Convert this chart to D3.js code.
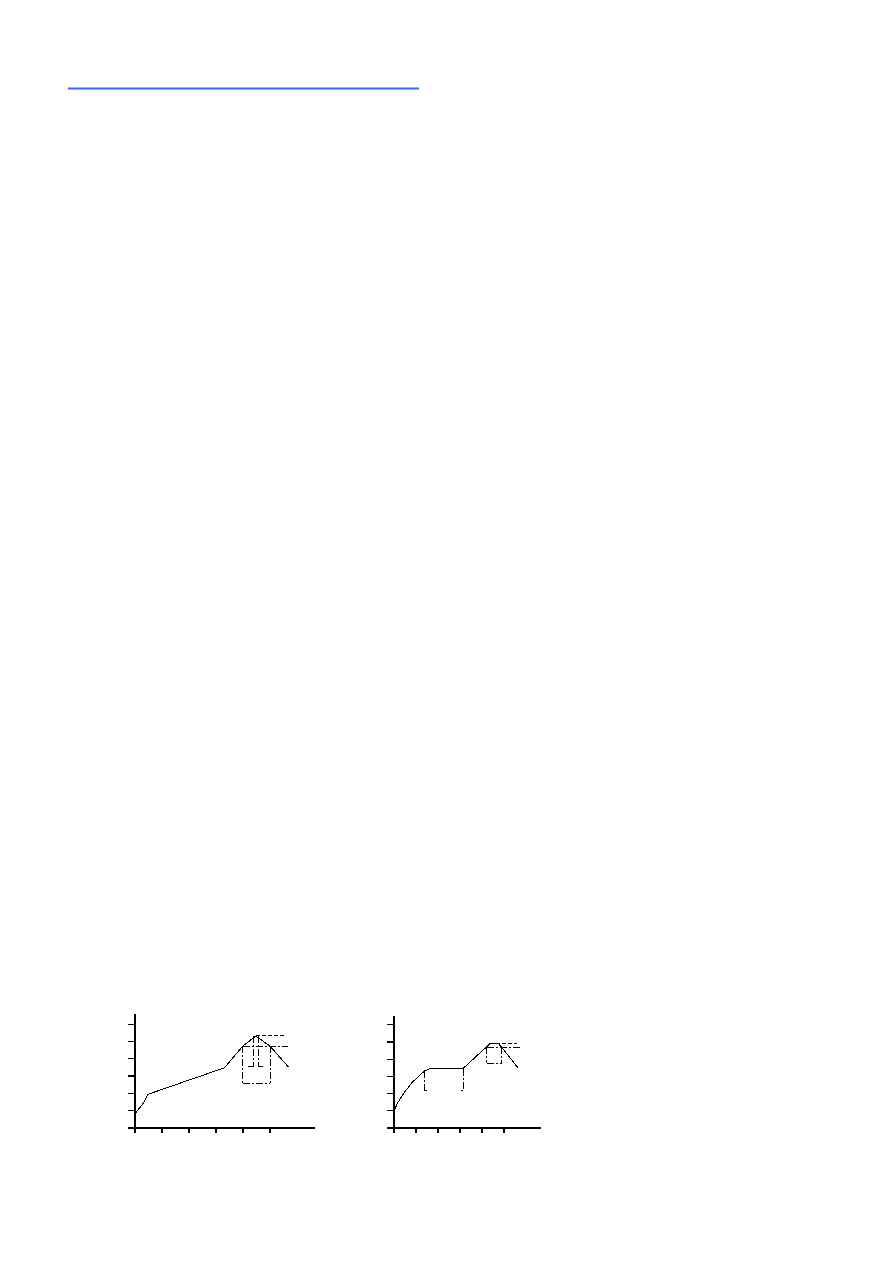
<!DOCTYPE html>
<html><head><meta charset="utf-8">
<script src="https://cdn.jsdelivr.net/npm/d3@7"></script>
<style>html,body{margin:0;padding:0;background:#fff;}svg{display:block;}</style>
</head><body>
<svg id="c" width="892" height="1261"></svg>
<script>
// ---- data ----
const yTicks = [0, 1, 2, 3, 4, 5, 6];
const xTicks = [0, 1, 2, 3, 4, 5];

// chart 1 curve [x, y]
const curve1 = [[0, 0.75], [0.33, 1.42], [0.50, 1.92], [3.33, 3.45], [4.01, 4.70], [4.49, 5.29], [5.02, 4.70], [5.70, 3.50]];
// chart 1 guide segments [x1, y1, x2, y2]
const dashed1 = [[4.49, 5.29, 5.57, 5.29]];
const dashDot1 = [
  [4.01, 4.70, 5.70, 4.70],
  [4.01, 4.70, 4.01, 2.55], [5.02, 4.70, 5.02, 2.55], [4.01, 2.55, 5.02, 2.55],
  [4.39, 5.29, 4.39, 3.51], [4.39, 3.51, 4.22, 3.51],
  [4.59, 5.29, 4.59, 3.51], [4.59, 3.51, 4.77, 3.51]
];

// chart 2 curve
const curve2 = [[0, 0.93], [0.22, 1.50], [0.52, 2.08], [0.83, 2.60], [1.13, 2.95], [1.40, 3.28], [1.66, 3.43], [3.16, 3.43], [4.24, 4.70], [4.39, 4.90], [4.76, 4.90], [4.92, 4.66], [5.65, 3.48]];
const dashed2 = [[4.39, 4.90, 5.61, 4.90]];
const dashDot2 = [
  [4.24, 4.66, 5.84, 4.66],
  [4.24, 4.66, 4.24, 3.73], [4.92, 4.66, 4.92, 3.73], [4.24, 3.73, 4.92, 3.73],
  [1.40, 3.28, 1.40, 2.18], [1.40, 2.18, 1.51, 2.18],
  [3.16, 3.43, 3.16, 2.18], [3.16, 2.18, 3.07, 2.18]
];

// ---- drawing ----
const svg = d3.select("#c");

// blue rule at top
svg.append("line").attr("x1", 68).attr("x2", 419).attr("y1", 88.5).attr("y2", 88.5)
  .attr("stroke", "#3366ff").attr("stroke-width", 2);

function chart(o) {
  const x = d3.scaleLinear().domain([0, o.xMax]).range([o.left, o.right]);
  const y = d3.scaleLinear().domain([0, o.yMax]).range([o.bottom, o.top]);
  const g = svg.append("g").attr("shape-rendering", "crispEdges");
  const ya = g.append("g").attr("transform", `translate(${o.left},0)`)
    .call(d3.axisLeft(y).tickValues(yTicks).tickSize(7).tickSizeOuter(0).tickFormat(""));
  const xa = g.append("g").attr("transform", `translate(0,${o.bottom})`)
    .call(d3.axisBottom(x).tickValues(xTicks).tickSize(5).tickSizeOuter(0).tickFormat(""));
  [ya, xa].forEach(a => { a.selectAll("path,line").attr("stroke", "#000").attr("stroke-width", 1.3); });
  g.append("path").datum(o.curve)
    .attr("d", d3.line().x(d => x(d[0])).y(d => y(d[1])))
    .attr("fill", "none").attr("stroke", "#000").attr("stroke-width", 1);
  const seg = (data, dash) => g.selectAll(null).data(data).enter().append("line")
    .attr("x1", d => x(d[0])).attr("y1", d => y(d[1]))
    .attr("x2", d => x(d[2])).attr("y2", d => y(d[3]))
    .attr("stroke", "#000").attr("stroke-width", 1).attr("stroke-dasharray", dash);
  seg(o.dashed, "4,2");
  seg(o.dashDot, "7,2,2,2");
}

chart({ left: 134.5, right: 314, top: 1013, bottom: 1127.5, xMax: 179.5 / 27, yMax: 114.5 / 17.3,
  curve: curve1, dashed: dashed1, dashDot: dashDot1 });
chart({ left: 393.5, right: 540, top: 1015, bottom: 1127.5, xMax: 146.5 / 22, yMax: 112.5 / 17.2,
  curve: curve2, dashed: dashed2, dashDot: dashDot2 });
</script>
</body></html>
